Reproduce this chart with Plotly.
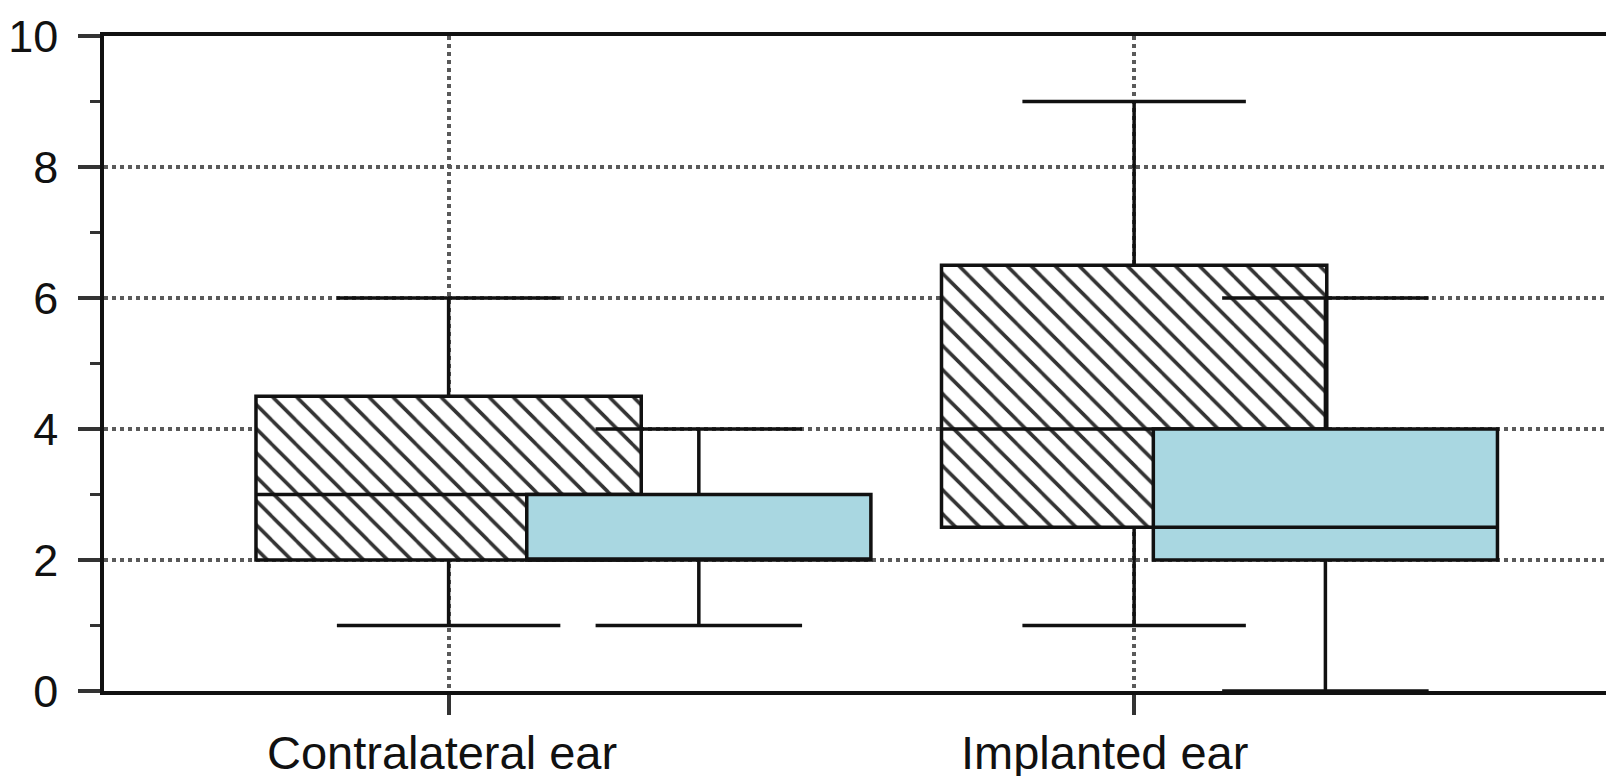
import plotly.graph_objects as go

# ---- data ----
categories = ["Contralateral ear", "Implanted ear"]

# hatched series
hatch_q1 = [2.0, 2.5]
hatch_median = [3.0, 4.0]
hatch_q3 = [4.5, 6.5]
hatch_low = [1.0, 1.0]
hatch_high = [6.0, 9.0]

# light-blue series
blue_q1 = [2.0, 2.0]
blue_median = [2.0, 2.5]
blue_q3 = [3.0, 4.0]
blue_low = [1.0, 0.0]
blue_high = [4.0, 6.0]

y_tickvals = [0, 2, 4, 6, 8, 10]
y_ticktext = ["0", "2", "4", "6", "8", "10"]

# ---- layout-only positions ----
cat_pos = [0, 1]
blue_shift = [0.365, 0.279]
label_shift = [-0.01, -0.043]
hatch_x = cat_pos
blue_x = [p + s for p, s in zip(cat_pos, blue_shift)]

FONT = "Liberation Sans, Arial, sans-serif"
GRID = dict(showgrid=True, gridcolor="#5a5a5a", gridwidth=3.5, griddash="4px,4px")
LINE_W = 3.5

fig = go.Figure()

# hatched fill (bars from q1 to q3)
fig.add_trace(go.Bar(
    x=hatch_x,
    base=hatch_q1,
    y=[b - a for a, b in zip(hatch_q1, hatch_q3)],
    width=0.562,
    marker=dict(color="white", line=dict(width=0),
                pattern=dict(shape="\\", fgcolor="#333333", bgcolor="white",
                             size=17, solidity=0.21, fillmode="replace")),
    hoverinfo="skip", showlegend=False,
))

# hatched box outline, median, whiskers
fig.add_trace(go.Box(
    x=hatch_x, q1=hatch_q1, median=hatch_median, q3=hatch_q3,
    lowerfence=hatch_low, upperfence=hatch_high,
    width=0.562, whiskerwidth=0.58,
    fillcolor="rgba(0,0,0,0)", line=dict(color="#111111", width=LINE_W),
    boxpoints=False, showlegend=False,
))

# blue boxes
fig.add_trace(go.Box(
    x=blue_x, q1=blue_q1, median=blue_median, q3=blue_q3,
    lowerfence=blue_low, upperfence=blue_high,
    width=0.502, whiskerwidth=0.6,
    fillcolor="#A9D7E1", line=dict(color="#111111", width=LINE_W),
    boxpoints=False, showlegend=False,
))

for i, cat in enumerate(categories):
    fig.add_annotation(
        x=cat_pos[i] + label_shift[i], y=-0.094, xref="x", yref="paper",
        text=cat, showarrow=False, yanchor="middle", xanchor="center",
        font=dict(family=FONT, size=47, color="#111111"),
    )

fig.update_layout(
    width=1614, height=776,
    margin=dict(l=96, r=8, t=28, b=93, pad=0),
    paper_bgcolor="white", plot_bgcolor="white",
    boxmode="overlay", barmode="overlay",
    showlegend=False,
    font=dict(family=FONT, color="#111111"),
)

fig.update_xaxes(
    range=[-0.5027, 1.700], automargin=False,
    tickmode="array", tickvals=cat_pos, showticklabels=False,
    ticks="outside", ticklen=20, tickwidth=4, tickcolor="#333333",
    showline=True, linecolor="#111111", linewidth=LINE_W, mirror=True,
    zeroline=False, **GRID,
)

fig.update_yaxes(
    range=[0, 10], automargin=False,
    tickmode="array", tickvals=y_tickvals, ticktext=y_ticktext,
    ticks="outside", ticklen=22, tickwidth=4, tickcolor="#333333",
    ticklabelstandoff=11,
    tickfont=dict(family=FONT, size=45, color="#111111"),
    minor=dict(tickmode="linear", tick0=0, dtick=1, ticks="outside",
               ticklen=10, tickwidth=3, tickcolor="#333333", showgrid=False),
    showline=True, linecolor="#111111", linewidth=LINE_W, mirror=True,
    zeroline=False, **GRID,
)

fig.write_html("out.html")
